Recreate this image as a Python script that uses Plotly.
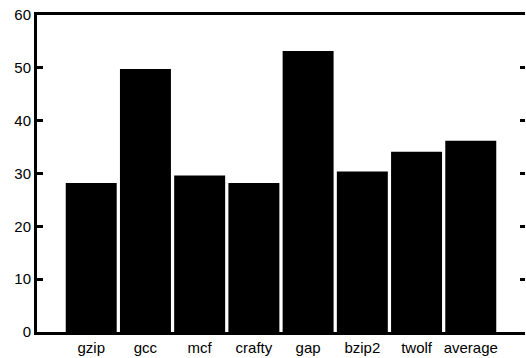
import plotly.graph_objects as go

categories = ["gzip", "gcc", "mcf", "crafty", "gap", "bzip2", "twolf", "average"]
values = [28.2, 49.8, 29.6, 28.2, 53.2, 30.4, 34.1, 36.2]
y_ticks = [0, 10, 20, 30, 40, 50, 60]

fig = go.Figure()
fig.add_trace(go.Bar(x=categories, y=values, marker=dict(color="black", line=dict(width=0)),
                     showlegend=False, hoverinfo="skip"))
fig.add_trace(go.Scatter(x=[categories[0]], y=[0], yaxis="y2", mode="markers",
                         marker=dict(opacity=0), showlegend=False, hoverinfo="skip"))

font = dict(family="Liberation Sans, Arial, sans-serif", size=15, color="black")
fig.update_layout(
    width=526, height=358,
    margin=dict(l=37, r=1, t=15, b=26),
    paper_bgcolor="white", plot_bgcolor="white",
    bargap=0.06,
    font=font,
    xaxis=dict(range=[-1, 8], showgrid=False, zeroline=False, showline=True, linewidth=3,
               linecolor="black", mirror=True, ticks="", tickfont=font),
    yaxis=dict(range=[0, 60], tickvals=y_ticks, showgrid=False, zeroline=False, showline=True,
               linewidth=3, linecolor="black", ticks="inside", ticklen=6, tickwidth=3,
               tickcolor="black", tickfont=font),
    yaxis2=dict(range=[0, 60], tickvals=y_ticks, overlaying="y", side="right", showgrid=False,
                zeroline=False, showline=False, ticks="inside", ticklen=5, tickwidth=3,
                tickcolor="black", showticklabels=False),
)
fig.write_html("out.html", config={"displayModeBar": False},
               post_script="document.body.style.margin='0';document.body.style.overflow='hidden';")
